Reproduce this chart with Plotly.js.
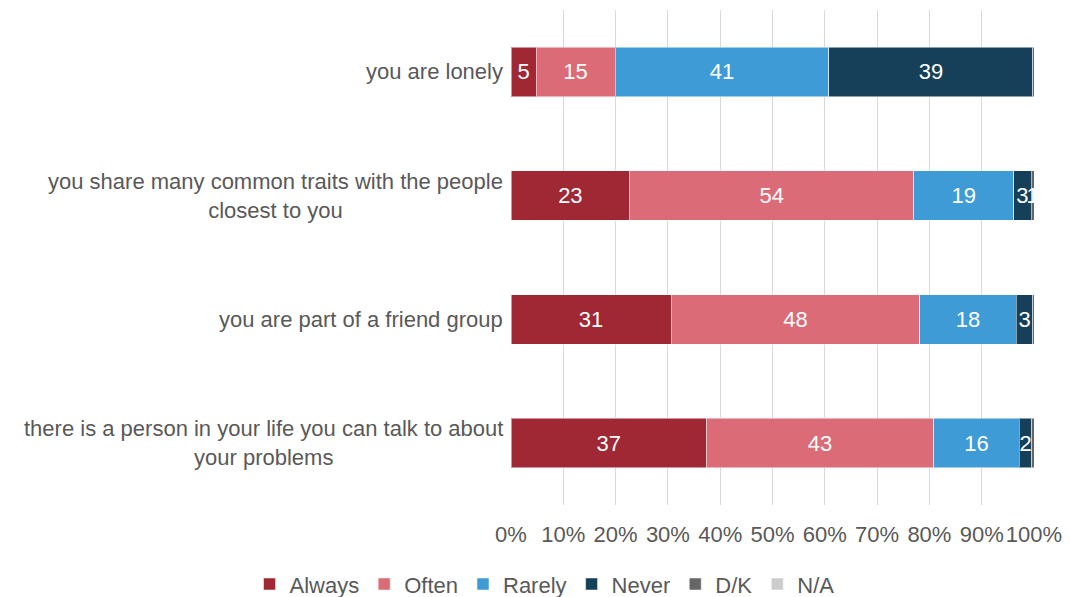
<!DOCTYPE html>
<html><head><meta charset="utf-8">
<script src="https://cdn.plot.ly/plotly-3.0.1.min.js"></script>
<style>html,body{margin:0;padding:0;background:#fff}#chart{width:1070px;height:597px}</style>
</head><body><div id="chart"></div>
<script>
var categories = [
  "you are lonely",
  "you share many common traits with the people<br>closest to you",
  "you are part of a friend group",
  "there is a person in your life you can talk to about<br>your problems"
];
var always = [4.8, 22.7, 30.6, 37.4];
var often  = [15.1, 54.3, 47.6, 43.4];
var rarely = [40.9, 19.1, 18.4, 16.4];
var never  = [39.0, 3.4, 3.2, 2.4];
var dk     = [0.2, 0.5, 0.2, 0.4];
var na     = [0, 0, 0, 0];
var seriesNames = ["Always", "Often", "Rarely", "Never", "D/K", "N/A"];
var seriesColors = ["#A02834", "#DB6B77", "#3E9BD6", "#163F5A", "#666666", "#CCCCCC"];
var tickVals = [0, 10, 20, 30, 40, 50, 60, 70, 80, 90, 100];
var tickText = ["0%", "10%", "20%", "30%", "40%", "50%", "60%", "70%", "80%", "90%", "100%"];

var FONT = "Liberation Sans, Arial, sans-serif";
var allSeries = [always, often, rarely, never, dk, na];
var traces = allSeries.map(function (vals, i) {
  return {
    type: "bar",
    orientation: "h",
    name: seriesNames[i],
    y: categories,
    x: vals,
    marker: {color: seriesColors[i], line: {color: "rgba(255,255,255,0.5)", width: 1}},
    text: vals.map(function (v) { return v >= 0.5 ? String(Math.round(v)) : ""; }),
    textposition: "inside",
    insidetextanchor: "middle",
    constraintext: "none",
    textangle: 0,
    textfont: {color: "#ffffff", size: 22, family: FONT},
    hoverinfo: "name+x"
  };
});

var annotations = categories.map(function (c) {
  return {
    xref: "paper", yref: "y", x: 0, y: c,
    xanchor: "right", yanchor: "middle", xshift: -6,
    text: c, align: "center", showarrow: false,
    font: {size: 22, color: "#595959", family: FONT}
  };
});

var layout = {
  width: 1070, height: 597,
  margin: {l: 511, r: 36, t: 10, b: 92, autoexpand: false},
  barmode: "stack",
  bargap: 0.6,
  paper_bgcolor: "#ffffff",
  plot_bgcolor: "#ffffff",
  font: {family: FONT, size: 22, color: "#595959"},
  xaxis: {
    range: [0, 100],
    tickvals: tickVals,
    ticktext: tickText,
    showgrid: true,
    gridcolor: "#D9D9D9",
    gridwidth: 1,
    zeroline: false,
    showline: false,
    ticks: "",
    ticklabelstandoff: 14,
    tickfont: {size: 22, color: "#595959"},
    fixedrange: true
  },
  yaxis: {
    autorange: "reversed",
    showgrid: false,
    zeroline: false,
    showline: false,
    ticks: "",
    showticklabels: false,
    fixedrange: true
  },
  annotations: annotations,
  legend: {
    orientation: "h",
    xref: "paper", yref: "paper",
    x: -0.50, xanchor: "left",
    y: -0.16, yanchor: "middle",
    font: {size: 22, color: "#595959"},
    traceorder: "normal",
    itemwidth: 30
  },
  showlegend: true
};

Plotly.newPlot("chart", traces, layout, {displayModeBar: false, staticPlot: true});
</script>
</body></html>
